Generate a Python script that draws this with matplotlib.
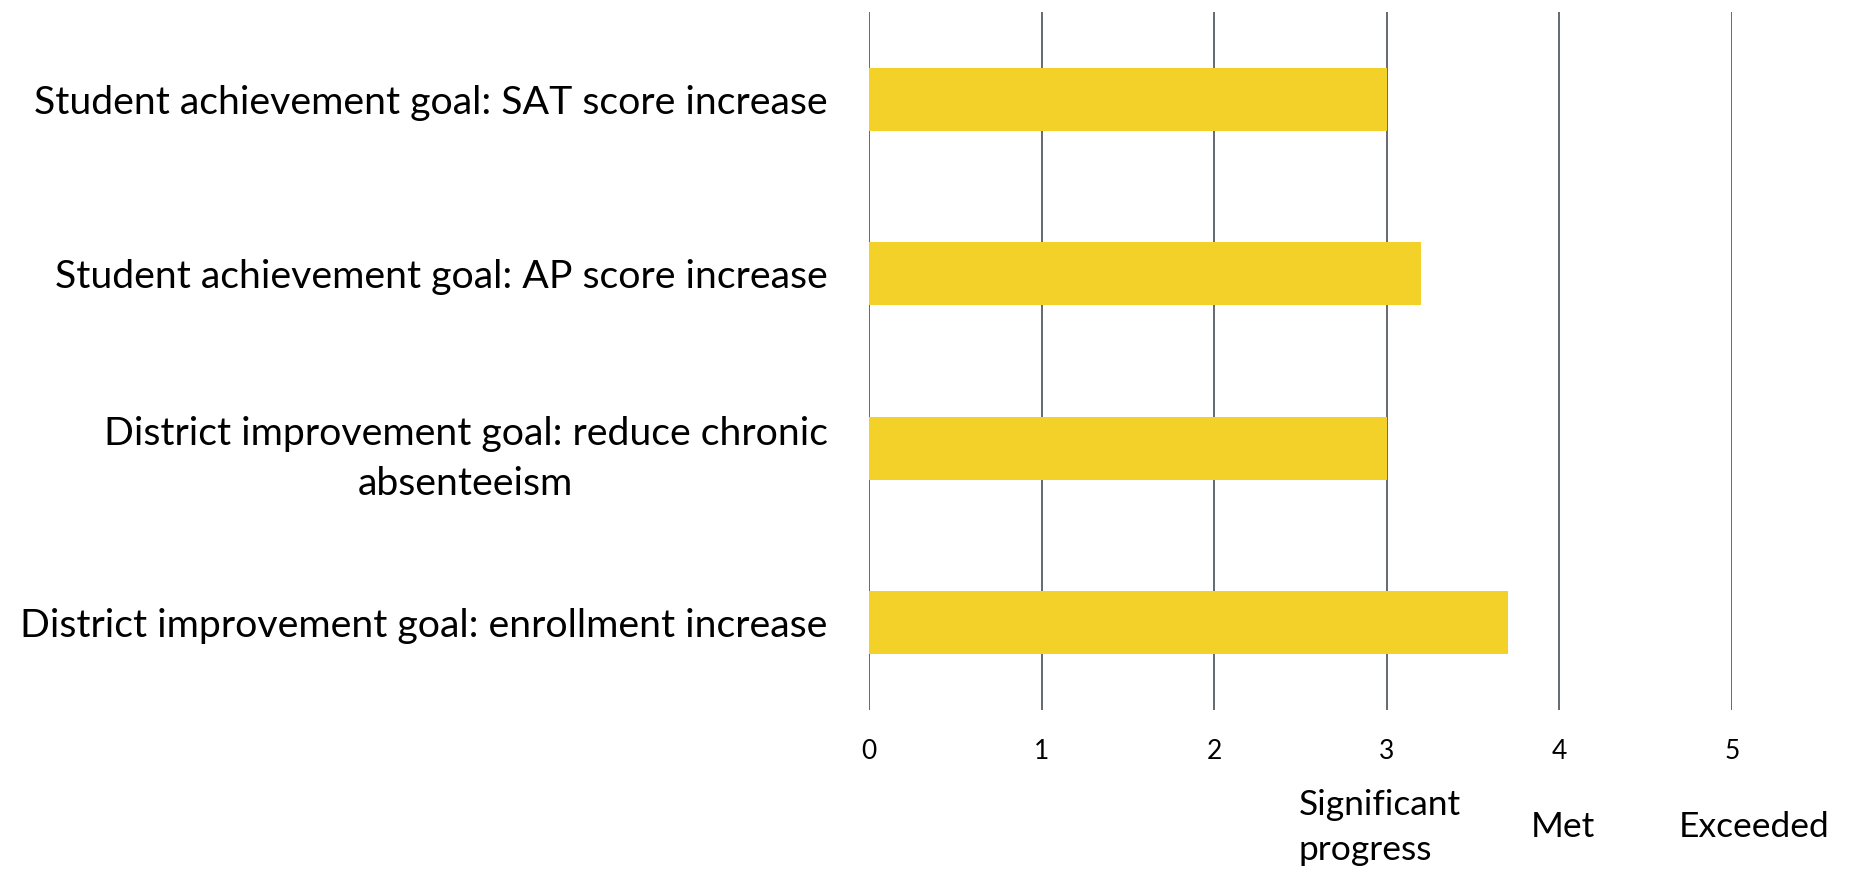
import matplotlib.pyplot as plt
import numpy as np

plt.rcParams['font.family'] = ['Lato', 'DejaVu Sans']

goals = [
    'Student achievement goal: SAT score increase',
    'Student achievement goal: AP score increase',
    'District improvement goal: reduce chronic\nabsenteeism',
    'District improvement goal: enrollment increase',
]
progress = [3.0, 3.2, 3.0, 3.7]

ticks = [0, 1, 2, 3, 4, 5]
level_names = ['Significant\nprogress', 'Met', 'Exceeded']
level_values = [3, 4, 5]

BAR = '#f4d129'
GRID = '#3b404a'

fig = plt.figure(figsize=(18.54, 8.69), dpi=100)
ax = fig.add_axes([0.4689, 0.183, 0.4652, 0.803])

y = np.arange(len(goals))
ax.barh(y, progress, height=0.36, color=BAR, zorder=2)
ax.set_ylim(len(goals) - 0.5, -0.5)
ax.set_xlim(0, 5)

ax.set_yticks(y)
ax.set_yticklabels(goals, fontsize=28.3, multialignment='center', linespacing=1.5)
ax.set_xticks(ticks)
ax.set_xticklabels([str(t) for t in ticks], fontsize=19)
ax.tick_params(axis='both', length=0)
ax.tick_params(axis='y', pad=30)
ax.tick_params(axis='x', pad=21)

for s in ax.spines.values():
    s.set_visible(False)
ax.grid(axis='x', color=GRID, linewidth=1.1, zorder=1)
ax.grid(axis='y', visible=False)

# rating scale names under the tick numbers
offsets = {3: -0.04, 4: 0.02, 5: 0.13}
for name, v in zip(level_names, level_values):
    ax.text(v + offsets[v], -0.168, name, transform=ax.get_xaxis_transform(),
            ha='center', va='center', fontsize=25.5, multialignment='left',
            linespacing=1.5)

fig.savefig('out.png', dpi=100)
